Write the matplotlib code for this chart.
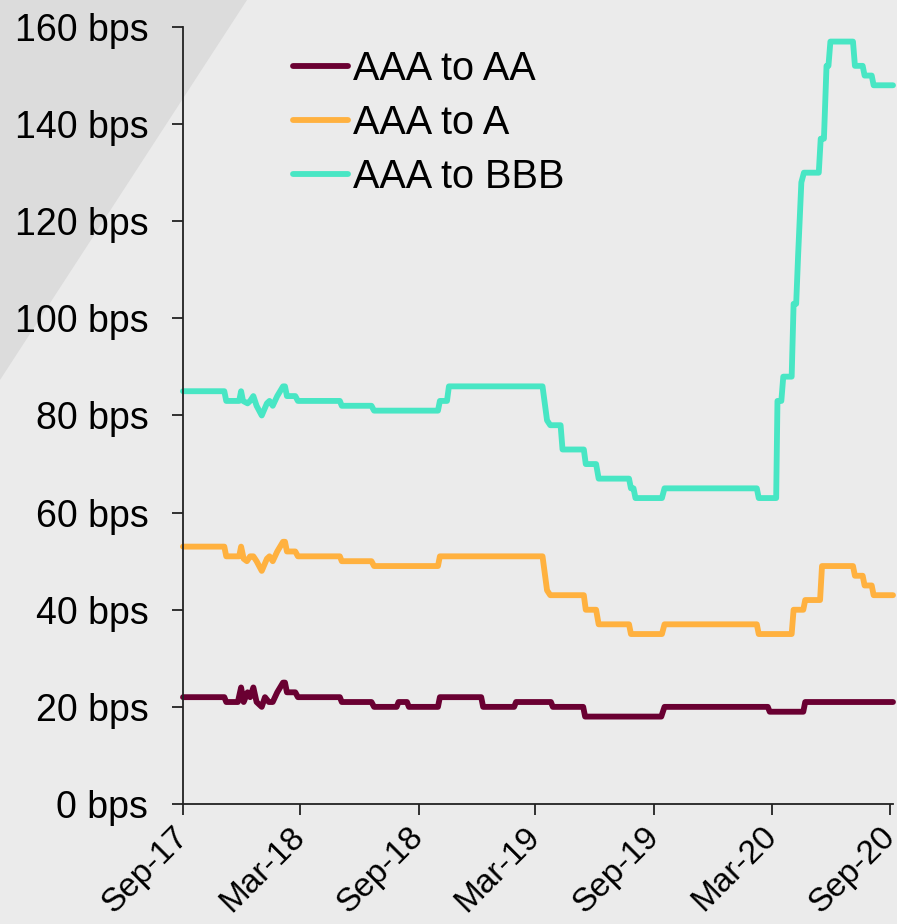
import matplotlib
matplotlib.use("Agg")
import matplotlib.pyplot as plt
import matplotlib.transforms as mtransforms
from matplotlib.patches import Polygon
import pandas as pd

plt.rcParams['font.family'] = ['Liberation Sans', 'DejaVu Sans']

# ---------------- data ----------------
aa_dates = ["2017-09-01", "2017-11-04", "2017-11-07", "2017-11-25", "2017-11-30", "2017-12-04",
            "2017-12-10", "2017-12-14", "2017-12-19", "2017-12-24", "2018-01-01", "2018-01-06",
            "2018-01-12", "2018-01-18", "2018-01-25", "2018-02-03", "2018-02-06", "2018-02-09",
            "2018-02-22", "2018-02-26", "2018-05-02", "2018-05-05", "2018-06-20", "2018-06-24",
            "2018-07-29", "2018-08-01", "2018-08-14", "2018-08-17", "2018-10-01", "2018-10-04",
            "2018-12-07", "2018-12-10", "2019-01-27", "2019-01-30", "2019-03-25", "2019-03-28",
            "2019-05-14", "2019-05-17", "2019-09-12", "2019-09-17", "2020-02-24", "2020-02-27",
            "2020-04-19", "2020-04-22", "2020-09-05"]
aa_values = [22, 22, 21, 21, 24, 21,
             23, 22, 24, 21, 20, 22,
             21, 21, 23, 25, 25, 23,
             23, 22, 22, 21, 21, 20,
             20, 21, 21, 20, 20, 22,
             22, 20, 20, 21, 21, 20,
             20, 18, 18, 20, 20, 19,
             19, 21, 21]

a_dates = ["2017-09-01", "2017-11-04", "2017-11-07", "2017-11-27", "2017-11-30", "2017-12-04",
           "2017-12-09", "2017-12-14", "2017-12-19", "2017-12-24", "2018-01-01", "2018-01-09",
           "2018-01-13", "2018-01-18", "2018-01-25", "2018-02-03", "2018-02-06", "2018-02-09",
           "2018-02-22", "2018-02-26", "2018-05-02", "2018-05-05", "2018-06-20", "2018-06-24",
           "2018-10-01", "2018-10-04", "2019-03-12", "2019-03-15", "2019-03-19", "2019-03-24",
           "2019-05-15", "2019-05-18", "2019-06-03", "2019-06-07", "2019-07-24", "2019-07-27",
           "2019-09-13", "2019-09-17", "2020-02-07", "2020-02-10", "2020-04-01", "2020-04-04",
           "2020-04-19", "2020-04-22", "2020-05-15", "2020-05-18", "2020-07-05", "2020-07-08",
           "2020-07-20", "2020-07-23", "2020-08-03", "2020-08-06", "2020-09-05"]
a_values = [53, 53, 51, 51, 53, 50.5,
            50, 51, 51, 50, 48, 50.5,
            51, 50, 52, 54, 54, 52,
            52, 51, 51, 50, 50, 49,
            49, 51, 51, 48, 44, 43,
            43, 40, 40, 37, 37, 35,
            35, 37, 37, 35, 35, 40,
            40, 42, 42, 49, 49, 47,
            47, 45, 45, 43, 43]

bbb_dates = ["2017-09-01", "2017-11-04", "2017-11-07", "2017-11-27", "2017-11-30", "2017-12-03",
             "2017-12-10", "2017-12-14", "2017-12-19", "2017-12-24", "2018-01-01", "2018-01-09",
             "2018-01-13", "2018-01-18", "2018-01-25", "2018-02-03", "2018-02-06", "2018-02-09",
             "2018-02-22", "2018-02-26", "2018-05-02", "2018-05-05", "2018-06-20", "2018-06-24",
             "2018-10-01", "2018-10-04", "2018-10-15", "2018-10-18", "2019-03-12", "2019-03-15",
             "2019-03-19", "2019-03-24", "2019-04-09", "2019-04-12", "2019-05-15", "2019-05-18",
             "2019-06-03", "2019-06-07", "2019-07-24", "2019-07-27", "2019-07-31", "2019-08-03",
             "2019-09-13", "2019-09-17", "2020-02-07", "2020-02-10", "2020-03-08", "2020-03-10",
             "2020-03-16", "2020-03-19", "2020-04-01", "2020-04-04", "2020-04-08", "2020-04-11",
             "2020-04-16", "2020-04-20", "2020-05-13", "2020-05-16", "2020-05-21", "2020-05-25",
             "2020-05-28", "2020-05-31", "2020-07-05", "2020-07-08", "2020-07-20", "2020-07-23",
             "2020-08-03", "2020-08-06", "2020-09-05"]
bbb_values = [85, 85, 83, 83, 85, 83,
              82.5, 83, 84, 82, 80, 82.5,
              83, 82, 84, 86, 86, 84,
              84, 83, 83, 82, 82, 81,
              81, 83, 83, 86, 86, 83,
              79, 78, 78, 73, 73, 70,
              70, 67, 67, 65, 65, 63,
              63, 65, 65, 63, 63, 83,
              83, 88, 88, 103, 103, 113,
              128, 130, 130, 137, 137, 152,
              152, 157, 157, 152, 152, 150,
              150, 148, 148]

series_labels = ["AAA to AA", "AAA to A", "AAA to BBB"]
series_colors = ["#6a0032", "#ffb13f", "#48e6c4"]
y_ticks = [0, 20, 40, 60, 80, 100, 120, 140, 160]
x_ticks = ["2017-09-01", "2018-03-01", "2018-09-01", "2019-03-01", "2019-09-01", "2020-03-01", "2020-09-01"]
x_tick_labels = ["Sep-17", "Mar-18", "Sep-18", "Mar-19", "Sep-19", "Mar-20", "Sep-20"]

# ---------------- figure ----------------
W, H = 897, 924
fig = plt.figure(figsize=(W / 100, H / 100), dpi=100, facecolor="#ebebeb")

# decorative diagonal triangle in top-left corner
tri = Polygon([(0, 1), (247 / W, 1), (0, 1 - 380 / H)], closed=True,
              transform=fig.transFigure, facecolor="#dcdcdc", edgecolor="none", zorder=-5)
fig.patches.append(tri)

ax = fig.add_axes([183 / W, 1 - 804 / H, (893 - 183) / W, (804 - 27) / H])
ax.set_facecolor("none")
ax.set_zorder(2)

all_dates = [aa_dates, a_dates, bbb_dates]
all_vals = [aa_values, a_values, bbb_values]
for d, v, lab, col in zip(all_dates, all_vals, series_labels, series_colors):
    ax.plot(pd.to_datetime(d), v, color=col, lw=4.2, label=lab,
            solid_capstyle="round", solid_joinstyle="round", clip_on=False)

ax.set_xlim(pd.Timestamp("2017-09-01"), pd.Timestamp("2020-09-05"))
ax.set_ylim(0, 160)

ax.set_yticks(y_ticks)
ax.set_yticklabels([f"{t} bps" for t in y_ticks])
ax.set_xticks(pd.to_datetime(x_ticks))
ax.set_xticklabels(x_tick_labels, rotation=45, ha="right", va="center",
                   rotation_mode="anchor")
shift = mtransforms.ScaledTranslation(4 / 100, 0, fig.dpi_scale_trans)
for lbl in ax.get_xticklabels():
    lbl.set_transform(lbl.get_transform() + shift)

for s in ["top", "right"]:
    ax.spines[s].set_visible(False)
for s in ["left", "bottom"]:
    ax.spines[s].set_color("#222222")
    ax.spines[s].set_linewidth(1.3)

ax.tick_params(axis="y", direction="out", length=8, width=1.3, color="#222222",
               labelsize=27, pad=17, labelcolor="black")
ax.tick_params(axis="x", direction="out", length=8, width=1.3, color="#222222",
               labelsize=24, pad=12, labelcolor="black")

leg = ax.legend(loc="upper left", bbox_to_anchor=(293 / W, 1 - 50 / H),
                bbox_transform=fig.transFigure, frameon=False, fontsize=28.5,
                handlelength=1.39, handletextpad=0.13, labelspacing=0.4,
                borderpad=0, borderaxespad=0)
for line in leg.get_lines():
    line.set_linewidth(4.2)
    line.set_solid_capstyle("round")

fig.savefig("out.png", dpi=100, facecolor=fig.get_facecolor())
